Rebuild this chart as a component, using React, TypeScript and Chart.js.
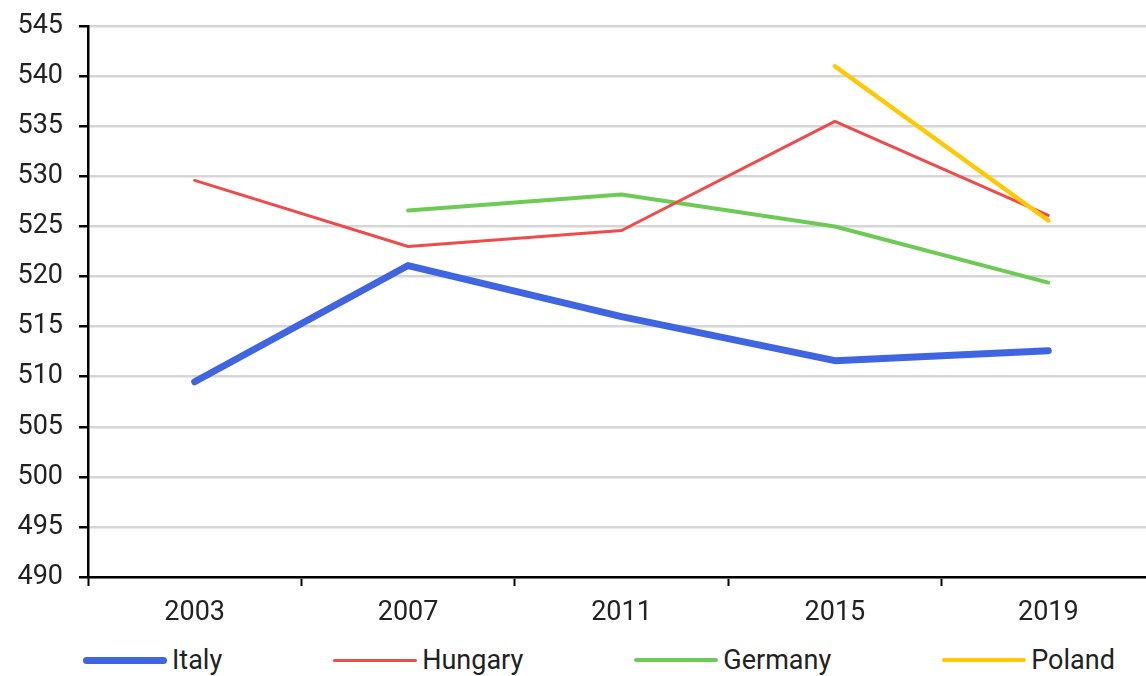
import React, { useEffect, useRef } from "react";
import { Chart, registerables } from "chart.js";

Chart.register(...registerables);

const years = ["2003", "2007", "2011", "2015", "2019"];
const italy = [509.5, 521.1, 516.0, 511.6, 512.6];
const hungary = [529.6, 523.0, 524.6, 535.5, 526.1];
const germany = [null, 526.6, 528.2, 525.0, 519.4];
const poland = [null, null, null, 541.0, 525.6];

const yMin = 490;
const yMax = 545;
const yStep = 5;

const series = [
  { name: "Italy", data: italy, color: "#3F66E0", width: 7, order: 0 },
  { name: "Hungary", data: hungary, color: "#F04B4B", width: 3, order: 2 },
  { name: "Germany", data: germany, color: "#6DCB55", width: 4, order: 3 },
  { name: "Poland", data: poland, color: "#FFC800", width: 4.5, order: 1 },
];

const FONT = "Roboto";

export default function App() {
  const ref = useRef<HTMLCanvasElement | null>(null);

  useEffect(() => {
    if (!ref.current) return;
    const chart = new Chart(ref.current, {
      type: "line",
      data: {
        labels: years,
        datasets: series.map((s) => ({
          label: s.name,
          data: s.data,
          borderColor: s.color,
          backgroundColor: s.color,
          borderWidth: s.width,
          borderCapStyle: "round",
          borderJoinStyle: "round",
          pointRadius: 0,
          pointHoverRadius: 0,
          tension: 0,
          order: s.order,
          spanGaps: false,
        })),
      },
      options: {
        responsive: false,
        animation: false,
        devicePixelRatio: 1,
        layout: { padding: { left: 0, top: 19, right: 5, bottom: 0 } },
        plugins: {
          legend: { display: false },
          tooltip: { enabled: false },
        },
        scales: {
          x: {
            type: "category",
            offset: true,
            grid: {
              offset: true,
              drawOnChartArea: false,
              drawTicks: true,
              tickLength: 9,
              tickColor: "#000",
              tickWidth: 2,
            },
            border: { display: true, color: "#000", width: 2.5 },
            ticks: {
              color: "#222",
              font: { family: FONT, size: 27 },
              padding: 11,
              maxRotation: 0,
            },
            afterFit: (scale: any) => {
              scale.height = 60;
            },
          },
          y: {
            min: yMin,
            max: yMax,
            grid: {
              color: "#d6d6d6",
              lineWidth: 2.5,
              drawTicks: true,
              tickLength: 9,
              tickColor: "#000",
              tickWidth: 2.5,
            },
            border: { display: true, color: "#000", width: 2.5 },
            ticks: {
              stepSize: yStep,
              color: "#222",
              font: { family: FONT, size: 27 },
              padding: 16,
            },
            afterFit: (scale: any) => {
              scale.width = 88;
            },
          },
        },
      },
    });
    return () => chart.destroy();
  }, []);

  return (
    <div
      style={{
        position: "fixed",
        left: 0,
        top: 0,
        width: 1146,
        height: 676,
        overflow: "hidden",
        background: "#fff",
        fontFamily: FONT,
      }}
    >
      <canvas
        ref={ref}
        width={1160}
        height={643}
        style={{ display: "block", position: "absolute", left: 0, top: -6 }}
      />
      <div
        style={{
          position: "absolute",
          left: 83,
          top: 641,
          height: 38,
          display: "flex",
          alignItems: "center",
          gap: 111,
          whiteSpace: "nowrap",
        }}
      >
        {series.map((s) => (
          <div key={s.name} style={{ display: "flex", alignItems: "center" }}>
            <span
              style={{
                display: "inline-block",
                width: 84,
                height: s.width,
                borderRadius: s.width,
                background: s.color,
              }}
            />
            <span style={{ marginLeft: 5, fontSize: 27, color: "#222", lineHeight: "38px" }}>
              {s.name}
            </span>
          </div>
        ))}
      </div>
    </div>
  );
}
